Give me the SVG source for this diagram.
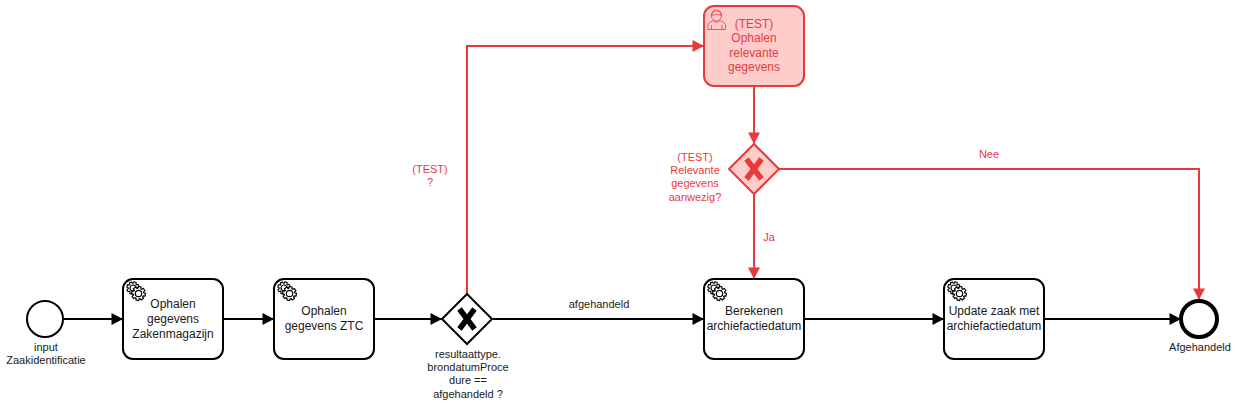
<svg xmlns="http://www.w3.org/2000/svg" width="1237" height="420" viewBox="0 0 1237 420">
<defs>
<style>
text{font-family:"Liberation Sans",Arial,sans-serif;font-size:12px;text-anchor:middle;fill:#1a1a1a}
.small{font-size:11px}
.red text,text.red{fill:#e83a3a}
.task{fill:#fff;stroke:#000;stroke-width:2}
.ev{fill:#fff;stroke:#000}
.c{fill:none;stroke:#000;stroke-width:2}
.cr{fill:none;stroke:#e83a3a;stroke-width:2}
.gear{fill:#fff;stroke:#000;stroke-width:1.200}
</style>
<marker id="a" markerUnits="userSpaceOnUse" markerWidth="13" markerHeight="13" refX="12" refY="6.500" orient="auto"><path d="M0.500 0.500L12 6.500L0.500 12.500Z" fill="#000"/></marker>
<marker id="ar" markerUnits="userSpaceOnUse" markerWidth="13" markerHeight="13" refX="12" refY="6.500" orient="auto"><path d="M0.500 0.500L12 6.500L0.500 12.500Z" fill="#e83a3a"/></marker>
<polygon id="gearShape" class="gear" points="6.87,-1.34 6.87,1.34 5.07,1.55 4.68,2.49 5.80,3.91 3.91,5.80 2.49,4.68 1.55,5.07 1.34,6.87 -1.34,6.87 -1.55,5.07 -2.49,4.68 -3.91,5.80 -5.80,3.91 -4.68,2.49 -5.07,1.55 -6.87,1.34 -6.87,-1.34 -5.07,-1.55 -4.68,-2.49 -5.80,-3.91 -3.91,-5.80 -2.49,-4.68 -1.55,-5.07 -1.34,-6.87 1.34,-6.87 1.55,-5.07 2.49,-4.68 3.91,-5.80 5.80,-3.91 4.68,-2.49 5.07,-1.55"/>
<g id="gearIcon">
<use href="#gearShape" transform="translate(7 6) rotate(20) scale(.9)"/>
<circle class="gear" cx="7" cy="6" r="3"/>
<use href="#gearShape" transform="translate(12.500 11.500) rotate(10)"/>
<circle class="gear" cx="12.500" cy="11.500" r="3.200"/>
</g>
</defs>
<g id="connectors">
<path class="c" marker-end="url(#a)" d="M63 319H123"/>
<path class="c" marker-end="url(#a)" d="M223 319H274"/>
<path class="c" marker-end="url(#a)" d="M374 319H442"/>
<path class="c" marker-end="url(#a)" d="M493 319H704"/>
<path class="c" marker-end="url(#a)" d="M804 319H944"/>
<path class="c" marker-end="url(#a)" d="M1044 319H1181"/>
<path class="cr" marker-end="url(#ar)" d="M467 294V46H704"/>
<path class="cr" marker-end="url(#ar)" d="M754 86V144"/>
<path class="cr" marker-end="url(#ar)" d="M754 195V279"/>
<path class="cr" marker-end="url(#ar)" d="M779 169H1199V300"/>
<text class="red small" x="430" y="173">(TEST)</text>
<text class="red small" x="430" y="186">?</text>
<text class="red small" x="989" y="158">Nee</text>
<text class="red small" x="769" y="241">Ja</text>
<text class="small" x="599" y="308">afgehandeld</text>
</g>
<g id="start">
<circle class="ev" cx="45" cy="319" r="18" stroke-width="2"/>
<text class="small" x="46" y="351">input</text>
<text class="small" x="46" y="364">Zaakidentificatie</text>
</g>
<g id="task1">
<rect class="task" x="123" y="279" width="100" height="80" rx="10"/>
<use href="#gearIcon" x="126" y="282"/>
<text x="173" y="308">Ophalen</text><text x="173" y="323">gegevens</text><text x="173" y="338">Zakenmagazijn</text>
</g>
<g id="task2">
<rect class="task" x="274" y="279" width="100" height="80" rx="10"/>
<use href="#gearIcon" x="277" y="282"/>
<text x="324" y="315">Ophalen</text><text x="324" y="330">gegevens ZTC</text>
</g>
<g id="gateway1">
<path d="M467 294L492 319L467 344L442 319Z" fill="#fff" stroke="#000" stroke-width="2"/>
<path d="M459.500 309L474.500 329M474.500 309L459.500 329" stroke="#000" stroke-width="5.500" fill="none"/>
<text class="small" x="468" y="358">resultaattype.</text>
<text class="small" x="468" y="371">brondatumProce</text>
<text class="small" x="468" y="384">dure ==</text>
<text class="small" x="468" y="398">afgehandeld ?</text>
</g>
<g id="task3" class="red">
<rect x="704" y="6" width="100" height="80" rx="10" fill="#ffcccc" stroke="#e83a3a" stroke-width="2"/>
<g fill="none" stroke="#e83a3a" stroke-width="0.800">
<circle cx="716.500" cy="16" r="5"/>
<path d="M711.500 15.500Q711.500 10 716.500 10Q721.500 10 721.500 15.500Q717 12.500 711.500 15.500Z"/>
<path d="M708 29.500V25Q708 22.500 713 20.500Q716.500 24 720 20.500Q725.500 22.500 725.500 25V29.500Z"/>
<path d="M711.500 25V29.500M722 25V29.500"/>
</g>
<text x="754" y="28">(TEST)</text><text x="754" y="42">Ophalen</text><text x="754" y="57">relevante</text><text x="754" y="71">gegevens</text>
</g>
<g id="gateway2" class="red">
<path d="M754 144L779 169L754 194L729 169Z" fill="#ffcccc" stroke="#e83a3a" stroke-width="2"/>
<path d="M746.500 159L761.500 179M761.500 159L746.500 179" stroke="#e83a3a" stroke-width="5.500" fill="none"/>
<text class="small" x="695" y="161">(TEST)</text>
<text class="small" x="695" y="174">Relevante</text>
<text class="small" x="695" y="187">gegevens</text>
<text class="small" x="695" y="201">aanwezig?</text>
</g>
<g id="task4">
<rect class="task" x="704" y="279" width="100" height="80" rx="10"/>
<use href="#gearIcon" x="707" y="282"/>
<text x="754" y="315">Berekenen</text><text x="754" y="330">archiefactiedatum</text>
</g>
<g id="task5">
<rect class="task" x="944" y="279" width="100" height="80" rx="10"/>
<use href="#gearIcon" x="947" y="282"/>
<text x="994" y="315">Update zaak met</text><text x="994" y="330">archiefactiedatum</text>
</g>
<g id="end">
<circle class="ev" cx="1199" cy="319" r="18" stroke-width="4"/>
<text class="small" x="1200" y="351">Afgehandeld</text>
</g>
</svg>
